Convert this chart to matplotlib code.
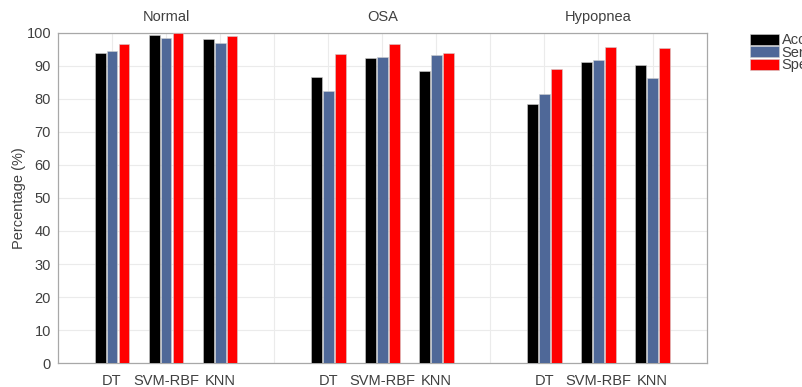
import numpy as np
import matplotlib.pyplot as plt

# classification results per class and classifier (%)
classes = ['Normal', 'OSA', 'Hypopnea']
classifiers = ['DT', 'SVM-RBF', 'KNN']
metrics = ['Accuracy', 'Sensitivity', 'Specificity']

accuracy = [93.7, 99.2, 98.0, 86.6, 92.2, 88.4, 78.4, 91.0, 90.2]
sensitivity = [94.5, 98.2, 96.9, 82.4, 92.7, 93.3, 81.4, 91.7, 86.2]
specificity = [96.4, 99.8, 99.0, 93.5, 96.4, 93.9, 88.9, 95.7, 95.4]

colors = ['#000000', '#4f6898', '#ff0000']
txt = '#404040'

plt.rcParams['font.family'] = ['Liberation Sans', 'DejaVu Sans']
plt.rcParams['font.size'] = 10.5

fig = plt.figure(figsize=(8.02, 3.87), dpi=100)
ax = fig.add_axes([0.0723, 0.0613, 0.8087, 0.8547])

# classifiers sit at 1,2,3 / 5,6,7 / 9,10,11
pos = np.array([g * 4 + k + 1 for g in range(len(classes)) for k in range(len(classifiers))])
width = 0.2
for i, (vals, c) in enumerate(zip([accuracy, sensitivity, specificity], colors)):
    ax.bar(pos + (i - 1) * 0.22, vals, width, color=c, edgecolor='#d0d0d0',
           linewidth=0.4, label=metrics[i], zorder=3)

ax.set_xlim(0, 12)
ax.set_ylim(0, 100)
ax.set_yticks(np.arange(0, 101, 10))
ax.set_xticks(np.arange(1, 12))
ax.set_xticklabels([classifiers[(k - 1) % 4] if (k % 4) != 0 else '' for k in range(1, 12)])
ax.tick_params(axis='x', length=0, colors=txt, pad=8)
ax.tick_params(axis='y', length=0, colors=txt, pad=5)
ax.grid(True, color='#ebebeb', linewidth=0.8, zorder=0)
for s in ax.spines.values():
    s.set_color('#a8a8a8')
    s.set_linewidth(0.9)

for g, name in enumerate(classes):
    ax.text(g * 4 + 2, 102.5, name, ha='center', va='bottom', color=txt)

ax.set_ylabel('Percentage (%)', color=txt, labelpad=0)

fig.legend(loc='upper left', bbox_to_anchor=(0.919, 0.948), frameon=False,
           handlelength=2.0, handleheight=0.8, handletextpad=0.15,
           labelspacing=-0.1, labelcolor=txt)

plt.savefig('out.png', dpi=100)
